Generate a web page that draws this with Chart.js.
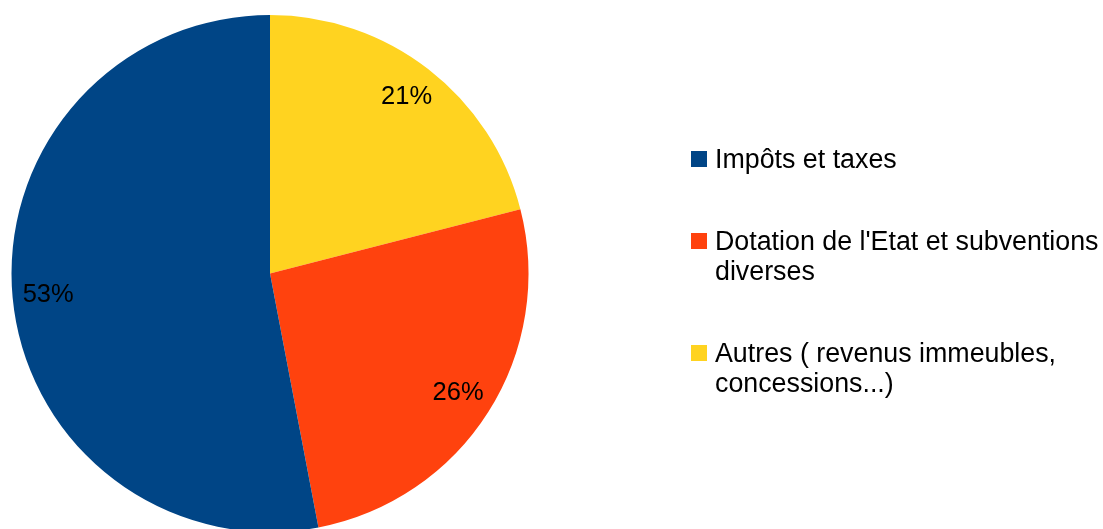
<!DOCTYPE html>
<html>
<head>
<meta charset="utf-8">
<script src="https://cdn.jsdelivr.net/npm/chart.js@4.4.1/dist/chart.umd.min.js"></script>
<style>
  html, body { margin: 0; padding: 0; background: #fff; }
  body { width: 1103px; height: 529px; position: relative; overflow: hidden; font-family: "Liberation Sans", Arial, sans-serif; }
  #c { position: absolute; left: 0; top: 0; }
  #legend { position: absolute; left: 691px; top: 144px; display: flex; flex-direction: column; gap: 52px; }
  .item { display: flex; align-items: flex-start; }
  .sw { width: 16px; height: 16px; margin-top: 7px; margin-right: 8px; flex: none; }
  .txt { font-size: 26.8px; line-height: 30px; color: #000; white-space: nowrap; }
</style>
</head>
<body>
<canvas id="c" width="1103" height="532"></canvas>
<div id="legend"></div>
<script>
// Legend order (top to bottom)
const categories = ["Impôts et taxes", ["Dotation de l'Etat et subventions", "diverses"], ["Autres ( revenus immeubles,", "concessions...)"]];
const shares = [53, 26, 21];
const colors = ["#004586", "#ff420e", "#ffd320"];

// Pie is drawn clockwise from 12 o'clock in reverse legend order
const pieLabels = categories.slice().reverse();
const pieValues = shares.slice().reverse();
const pieColors = colors.slice().reverse();

const pctLabels = {
  id: 'pctLabels',
  afterDatasetsDraw(chart) {
    const ctx = chart.ctx;
    const meta = chart.getDatasetMeta(0);
    ctx.save();
    ctx.font = "25.5px 'Liberation Sans', Arial, sans-serif";
    ctx.fillStyle = "#000";
    ctx.textAlign = "center";
    ctx.textBaseline = "middle";
    meta.data.forEach((arc, i) => {
      const p = arc.getProps(['x', 'y', 'startAngle', 'endAngle', 'outerRadius'], true);
      const mid = (p.startAngle + p.endAngle) / 2;
      const r = p.outerRadius * 0.862;
      ctx.fillText(pieValues[i] + "%", p.x + Math.cos(mid) * r, p.y + Math.sin(mid) * r);
    });
    ctx.restore();
  }
};

new Chart(document.getElementById('c'), {
  type: 'pie',
  data: {
    labels: pieLabels,
    datasets: [{ data: pieValues, backgroundColor: pieColors, borderWidth: 0 }]
  },
  options: {
    responsive: false,
    animation: false,
    layout: { padding: { left: 11.5, right: 574.5, top: 15, bottom: 0 } },
    plugins: { legend: { display: false }, tooltip: { enabled: false } }
  },
  plugins: [pctLabels]
});

const legend = document.getElementById('legend');
categories.forEach((cat, i) => {
  const item = document.createElement('div');
  item.className = 'item';
  const sw = document.createElement('div');
  sw.className = 'sw';
  sw.style.background = colors[i];
  const txt = document.createElement('div');
  txt.className = 'txt';
  const lines = Array.isArray(cat) ? cat : [cat];
  lines.forEach((l, j) => {
    if (j) txt.appendChild(document.createElement('br'));
    txt.appendChild(document.createTextNode(l));
  });
  item.appendChild(sw);
  item.appendChild(txt);
  legend.appendChild(item);
});
</script>
</body>
</html>
